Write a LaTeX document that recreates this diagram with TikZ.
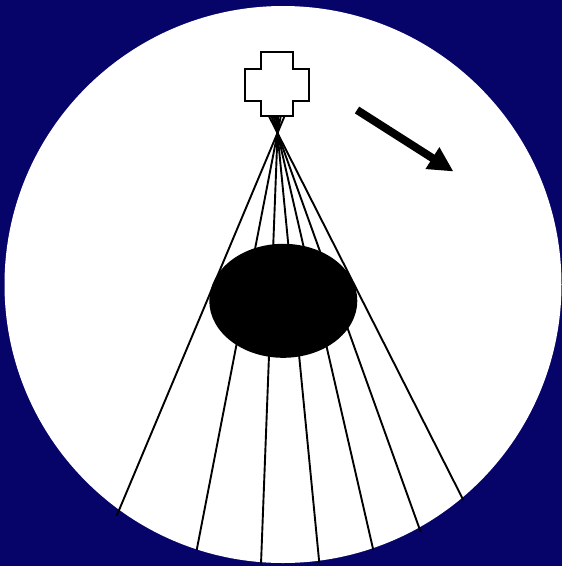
\documentclass[tikz,border=0pt]{standalone}
\usepackage{xcolor}
\usepackage{tikz}
\usetikzlibrary{shapes.geometric, arrows.meta}

\definecolor{bgnavy}{RGB}{6,4,104}

\begin{document}
\begin{tikzpicture}[
  x=1pt, y=-1pt,
  ray/.style={line width=1.9pt, black},
  mass/.style={ellipse, fill=black, inner sep=0pt, minimum width=148pt, minimum height=114pt},
  arr/.style={-{Triangle[length=25pt, width=24pt]}, line width=8pt}
]
\fill[bgnavy] (0,0) rectangle (562,566);
\useasboundingbox (0,0) rectangle (562,566);
\fill[white] (283,284.5) circle[radius=278.5];

% source point and the far ends of the rays
\coordinate (focus) at (277.5,133);
\coordinate (b1) at (116.7,515.7);
\coordinate (b2) at (196.7,550);
\coordinate (b3) at (261,564);
\coordinate (b4) at (319.3,563);
\coordinate (b5) at (373.3,550);
\coordinate (b6) at (420.7,532);
\coordinate (b7) at (463.3,500);
\coordinate (t1) at (284.6,116);
\coordinate (t2) at (280.8,116);
\coordinate (t3) at (278.2,116);
\coordinate (t4) at (275.8,116);
\coordinate (t5) at (273.6,116);
\coordinate (t6) at (271.4,116);
\coordinate (t7) at (268.9,116);

\foreach \i in {1,...,7}
  \draw[ray] (t\i) -- (b\i);

\node[mass] (body) at (283.3,300.8) {};

% cross-shaped source
\draw[line width=2pt, fill=white]
  (261,52) -- (293,52) -- (293,68.5) -- (308.5,68.5) -- (308.5,101) -- (293,101)
  -- (293,116) -- (261,116) -- (261,101) -- (244.5,101) -- (244.5,68.5) -- (261,68.5) -- cycle;
\coordinate (src) at (277,84);

% direction arrow
\coordinate (dirA) at (357,110);
\coordinate (dirB) at (453.5,171.5);
\draw[arr] (dirA) -- (dirB);
\end{tikzpicture}
\end{document}
